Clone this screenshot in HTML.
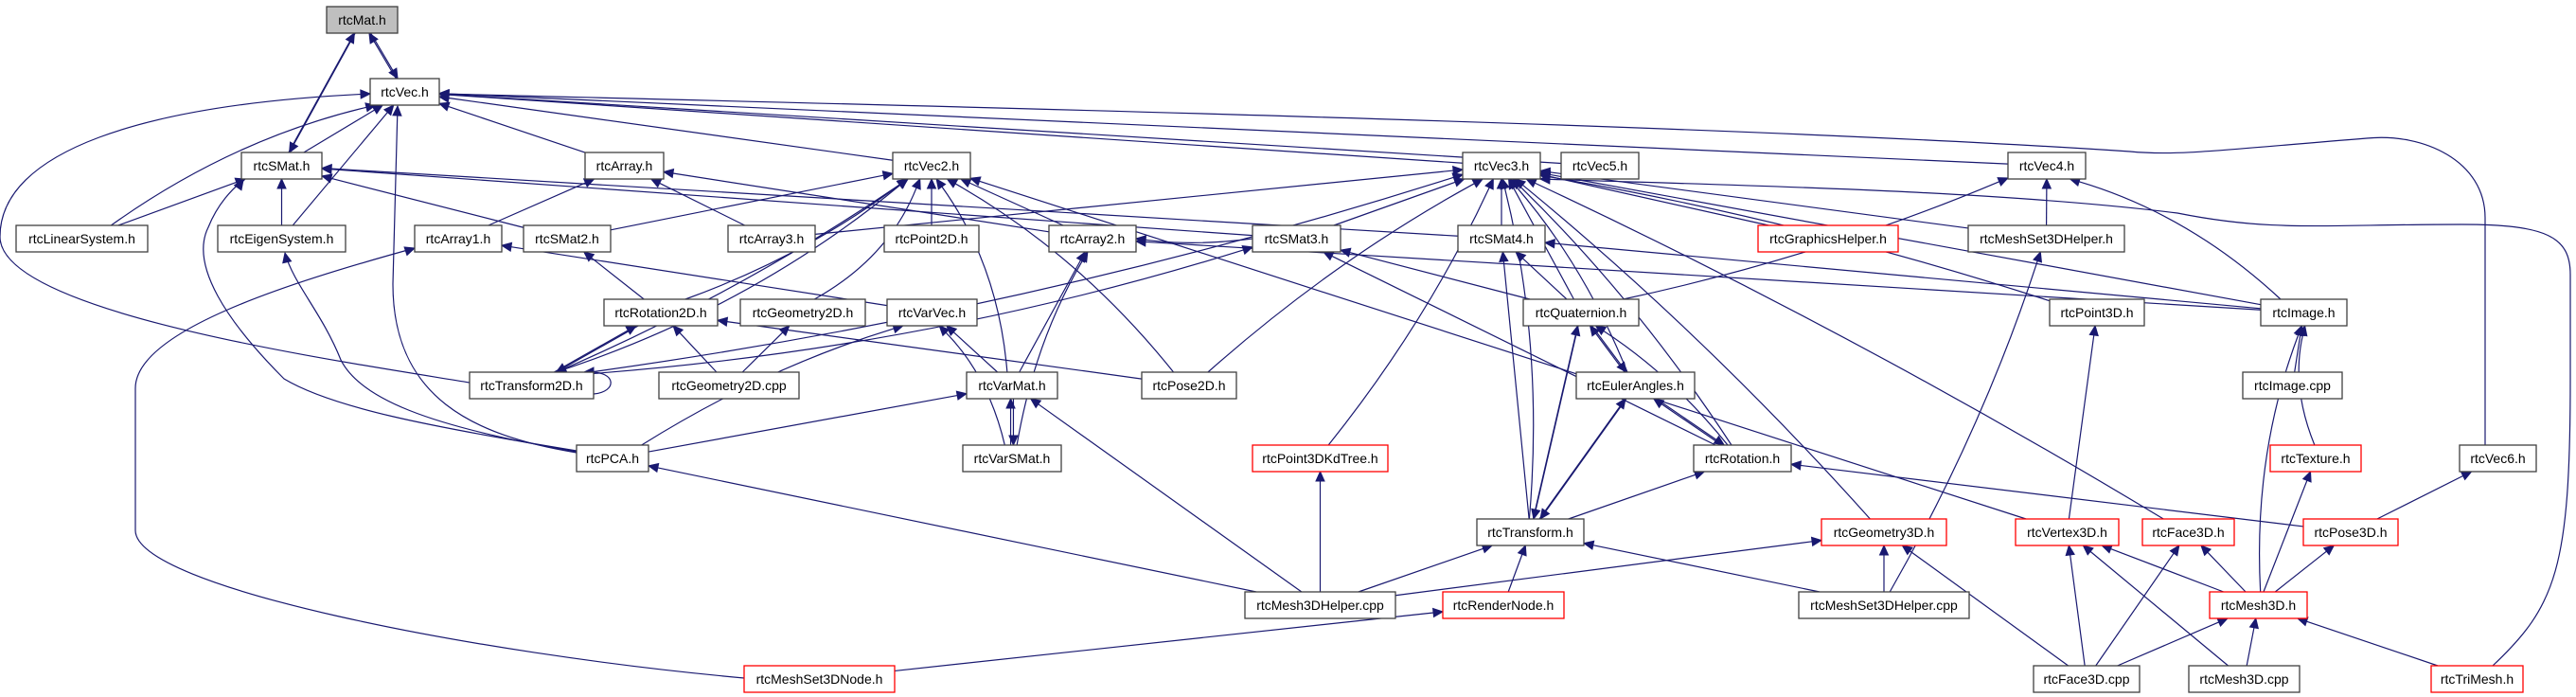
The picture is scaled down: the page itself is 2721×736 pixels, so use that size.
<!DOCTYPE html>
<html><head><meta charset="utf-8">
<style>
html,body{margin:0;padding:0;background:#fff;}
svg{display:block;}
text{font-family:"Liberation Sans",sans-serif;font-size:14px;fill:#000;}
</style></head>
<body>
<svg id="g" width="2721" height="736" xmlns="http://www.w3.org/2000/svg">
<g id="edges" fill="none" stroke="#191970" stroke-width="1.2"></g>
<g id="heads" fill="#191970" stroke="#191970"></g>
<g id="nodes" stroke-width="1.3">
<rect x="345" y="7" width="75" height="28" fill="#bfbfbf" stroke="#404040"/><text x="382.5" y="26" text-anchor="middle">rtcMat.h</text>
<rect x="391" y="83" width="73" height="28" fill="#fff" stroke="#404040"/><text x="427.5" y="102" text-anchor="middle">rtcVec.h</text>
<rect x="255" y="161" width="85" height="28" fill="#fff" stroke="#404040"/><text x="297.5" y="180" text-anchor="middle">rtcSMat.h</text>
<rect x="618" y="161" width="83" height="28" fill="#fff" stroke="#404040"/><text x="659.5" y="180" text-anchor="middle">rtcArray.h</text>
<rect x="943" y="161" width="82" height="28" fill="#fff" stroke="#404040"/><text x="984" y="180" text-anchor="middle">rtcVec2.h</text>
<rect x="1545" y="161" width="82" height="28" fill="#fff" stroke="#404040"/><text x="1586" y="180" text-anchor="middle">rtcVec3.h</text>
<rect x="1649" y="161" width="82" height="28" fill="#fff" stroke="#404040"/><text x="1690" y="180" text-anchor="middle">rtcVec5.h</text>
<rect x="2121" y="161" width="82" height="28" fill="#fff" stroke="#404040"/><text x="2162" y="180" text-anchor="middle">rtcVec4.h</text>
<rect x="17" y="238" width="139" height="28" fill="#fff" stroke="#404040"/><text x="86.5" y="257" text-anchor="middle">rtcLinearSystem.h</text>
<rect x="230" y="238" width="135" height="28" fill="#fff" stroke="#404040"/><text x="297.5" y="257" text-anchor="middle">rtcEigenSystem.h</text>
<rect x="438" y="238" width="92" height="28" fill="#fff" stroke="#404040"/><text x="484" y="257" text-anchor="middle">rtcArray1.h</text>
<rect x="553" y="238" width="92" height="28" fill="#fff" stroke="#404040"/><text x="599" y="257" text-anchor="middle">rtcSMat2.h</text>
<rect x="769" y="238" width="92" height="28" fill="#fff" stroke="#404040"/><text x="815" y="257" text-anchor="middle">rtcArray3.h</text>
<rect x="934" y="238" width="100" height="28" fill="#fff" stroke="#404040"/><text x="984" y="257" text-anchor="middle">rtcPoint2D.h</text>
<rect x="1108" y="238" width="92" height="28" fill="#fff" stroke="#404040"/><text x="1154" y="257" text-anchor="middle">rtcArray2.h</text>
<rect x="1323" y="238" width="93" height="28" fill="#fff" stroke="#404040"/><text x="1369.5" y="257" text-anchor="middle">rtcSMat3.h</text>
<rect x="1540" y="238" width="92" height="28" fill="#fff" stroke="#404040"/><text x="1586" y="257" text-anchor="middle">rtcSMat4.h</text>
<rect x="1857" y="238" width="148" height="28" fill="#fff" stroke="#ff0000"/><text x="1931" y="257" text-anchor="middle">rtcGraphicsHelper.h</text>
<rect x="2079" y="238" width="165" height="28" fill="#fff" stroke="#404040"/><text x="2161.5" y="257" text-anchor="middle">rtcMeshSet3DHelper.h</text>
<rect x="638" y="316" width="120" height="28" fill="#fff" stroke="#404040"/><text x="698" y="335" text-anchor="middle">rtcRotation2D.h</text>
<rect x="782" y="316" width="132" height="28" fill="#fff" stroke="#404040"/><text x="848" y="335" text-anchor="middle">rtcGeometry2D.h</text>
<rect x="937" y="316" width="95" height="28" fill="#fff" stroke="#404040"/><text x="984.5" y="335" text-anchor="middle">rtcVarVec.h</text>
<rect x="1609" y="316" width="122" height="28" fill="#fff" stroke="#404040"/><text x="1670" y="335" text-anchor="middle">rtcQuaternion.h</text>
<rect x="2165" y="316" width="100" height="28" fill="#fff" stroke="#404040"/><text x="2215" y="335" text-anchor="middle">rtcPoint3D.h</text>
<rect x="2388" y="316" width="91" height="28" fill="#fff" stroke="#404040"/><text x="2433.5" y="335" text-anchor="middle">rtcImage.h</text>
<rect x="496" y="393" width="131" height="28" fill="#fff" stroke="#404040"/><text x="561.5" y="412" text-anchor="middle">rtcTransform2D.h</text>
<rect x="696" y="393" width="148" height="28" fill="#fff" stroke="#404040"/><text x="770" y="412" text-anchor="middle">rtcGeometry2D.cpp</text>
<rect x="1021" y="393" width="96" height="28" fill="#fff" stroke="#404040"/><text x="1069" y="412" text-anchor="middle">rtcVarMat.h</text>
<rect x="1206" y="393" width="100" height="28" fill="#fff" stroke="#404040"/><text x="1256" y="412" text-anchor="middle">rtcPose2D.h</text>
<rect x="1665" y="393" width="125" height="28" fill="#fff" stroke="#404040"/><text x="1727.5" y="412" text-anchor="middle">rtcEulerAngles.h</text>
<rect x="2369" y="393" width="105" height="28" fill="#fff" stroke="#404040"/><text x="2421.5" y="412" text-anchor="middle">rtcImage.cpp</text>
<rect x="609" y="470" width="76" height="28" fill="#fff" stroke="#404040"/><text x="647" y="489" text-anchor="middle">rtcPCA.h</text>
<rect x="1017" y="470" width="104" height="28" fill="#fff" stroke="#404040"/><text x="1069" y="489" text-anchor="middle">rtcVarSMat.h</text>
<rect x="1323" y="470" width="143" height="28" fill="#fff" stroke="#ff0000"/><text x="1394.5" y="489" text-anchor="middle">rtcPoint3DKdTree.h</text>
<rect x="1789" y="470" width="103" height="28" fill="#fff" stroke="#404040"/><text x="1840.5" y="489" text-anchor="middle">rtcRotation.h</text>
<rect x="2398" y="470" width="96" height="28" fill="#fff" stroke="#ff0000"/><text x="2446" y="489" text-anchor="middle">rtcTexture.h</text>
<rect x="2598" y="470" width="81" height="28" fill="#fff" stroke="#404040"/><text x="2638.5" y="489" text-anchor="middle">rtcVec6.h</text>
<rect x="1560" y="548" width="113" height="28" fill="#fff" stroke="#404040"/><text x="1616.5" y="567" text-anchor="middle">rtcTransform.h</text>
<rect x="1924" y="548" width="132" height="28" fill="#fff" stroke="#ff0000"/><text x="1990" y="567" text-anchor="middle">rtcGeometry3D.h</text>
<rect x="2129" y="548" width="109" height="28" fill="#fff" stroke="#ff0000"/><text x="2183.5" y="567" text-anchor="middle">rtcVertex3D.h</text>
<rect x="2263" y="548" width="97" height="28" fill="#fff" stroke="#ff0000"/><text x="2311.5" y="567" text-anchor="middle">rtcFace3D.h</text>
<rect x="2433" y="548" width="100" height="28" fill="#fff" stroke="#ff0000"/><text x="2483" y="567" text-anchor="middle">rtcPose3D.h</text>
<rect x="1315" y="625" width="159" height="28" fill="#fff" stroke="#404040"/><text x="1394.5" y="644" text-anchor="middle">rtcMesh3DHelper.cpp</text>
<rect x="1524" y="625" width="128" height="28" fill="#fff" stroke="#ff0000"/><text x="1588" y="644" text-anchor="middle">rtcRenderNode.h</text>
<rect x="1900" y="625" width="180" height="28" fill="#fff" stroke="#404040"/><text x="1990" y="644" text-anchor="middle">rtcMeshSet3DHelper.cpp</text>
<rect x="2334" y="625" width="103" height="28" fill="#fff" stroke="#ff0000"/><text x="2385.5" y="644" text-anchor="middle">rtcMesh3D.h</text>
<rect x="786" y="703" width="159" height="28" fill="#fff" stroke="#ff0000"/><text x="865.5" y="722" text-anchor="middle">rtcMeshSet3DNode.h</text>
<rect x="2148" y="703" width="112" height="28" fill="#fff" stroke="#404040"/><text x="2204" y="722" text-anchor="middle">rtcFace3D.cpp</text>
<rect x="2312" y="703" width="117" height="28" fill="#fff" stroke="#404040"/><text x="2370.5" y="722" text-anchor="middle">rtcMesh3D.cpp</text>
<rect x="2568" y="703" width="97" height="28" fill="#fff" stroke="#ff0000"/><text x="2616.5" y="722" text-anchor="middle">rtcTriMesh.h</text>
</g>
</svg>
<script>
(function(){
var N={};
document.querySelectorAll('#nodes rect').forEach(function(r){
  var t=r.nextElementSibling.textContent;
  N[t]={x:+r.getAttribute('x'),y:+r.getAttribute('y'),w:+r.getAttribute('width'),h:+r.getAttribute('height')};
});
function c(n){return [n.x+n.w/2,n.y+n.h/2];}
function clip(n,px,py){
  var cx=n.x+n.w/2,cy=n.y+n.h/2,dx=px-cx,dy=py-cy;
  var sx=dx?(n.w/2)/Math.abs(dx):1e9, sy=dy?(n.h/2)/Math.abs(dy):1e9, s=Math.min(sx,sy);
  return [cx+dx*s,cy+dy*s];
}
var E=document.getElementById('edges'),H=document.getElementById('heads');
var NS='http://www.w3.org/2000/svg';
function head(qx,qy,fx,fy){
  var ex=qx-fx,ey=qy-fy,el=Math.hypot(ex,ey)||1;ex/=el;ey/=el;
  var al=10,aw=4.5,bx=qx-ex*al,by=qy-ey*al;
  var poly=document.createElementNS(NS,'polygon');
  poly.setAttribute('points',qx+','+qy+' '+(bx-ey*aw)+','+(by+ex*aw)+' '+(bx+ey*aw)+','+(by-ex*aw));
  H.appendChild(poly);
  return [bx,by];
}
function edge(a,b,off,bend){
  off=off||0;bend=bend||0;
  var A=N[a],B=N[b];
  var ca=c(A),cb=c(B);
  var dx=cb[0]-ca[0],dy=cb[1]-ca[1],L=Math.hypot(dx,dy)||1;
  var nx=-dy/L*off,ny=dx/L*off;
  ca=[ca[0]+nx,ca[1]+ny];cb=[cb[0]+nx,cb[1]+ny];
  var p=clip(A,cb[0],cb[1]),q=clip(B,ca[0],ca[1]);
  var mx=(p[0]+q[0])/2,my=(p[1]+q[1])/2;
  var ddx=q[0]-p[0],ddy=q[1]-p[1],LL=Math.hypot(ddx,ddy)||1;
  var cxp=mx-ddy/LL*bend,cyp=my+ddx/LL*bend;
  var b2=head(q[0],q[1],cxp,cyp);
  var path=document.createElementNS(NS,'path');
  path.setAttribute('d','M'+p[0]+','+p[1]+' Q'+cxp+','+cyp+' '+b2[0]+','+b2[1]);
  E.appendChild(path);
}
function custom(d,qx,qy,fx,fy){
  var b=head(qx,qy,fx,fy);
  var path=document.createElementNS(NS,'path');
  path.setAttribute('d',d+' L'+b[0]+','+b[1]);
  E.appendChild(path);
}
var list=[
['rtcVec.h','rtcMat.h',-4],['rtcMat.h','rtcVec.h',-4],
['rtcSMat.h','rtcMat.h',-4],['rtcMat.h','rtcSMat.h',-4],
['rtcSMat.h','rtcVec.h'],
['rtcLinearSystem.h','rtcVec.h',0,-30],['rtcLinearSystem.h','rtcSMat.h'],
['rtcEigenSystem.h','rtcSMat.h'],['rtcEigenSystem.h','rtcVec.h'],
['rtcPCA.h','rtcVarVec.h',0,-20],['rtcPCA.h','rtcVarMat.h'],
['rtcTransform2D.h','rtcVec2.h',0,40],['rtcTransform2D.h','rtcVec2.h',5,20],
['rtcTransform2D.h','rtcVec3.h',0,40],['rtcTransform2D.h','rtcSMat3.h',0,40],
['rtcTransform2D.h','rtcRotation2D.h',-3],['rtcRotation2D.h','rtcTransform2D.h',-3],
['rtcArray.h','rtcVec.h'],['rtcArray1.h','rtcArray.h'],['rtcArray3.h','rtcArray.h'],['rtcArray2.h','rtcArray.h'],
['rtcArray2.h','rtcVec2.h'],['rtcSMat3.h','rtcArray2.h',0,-8],
['rtcVec2.h','rtcVec.h'],['rtcPoint2D.h','rtcVec2.h'],['rtcArray3.h','rtcVec3.h'],
['rtcGeometry2D.h','rtcVec2.h',0,30],['rtcVarMat.h','rtcVec2.h',0,30],['rtcPose2D.h','rtcVec2.h',0,30],
['rtcPose2D.h','rtcVec3.h',0,-20],['rtcSMat2.h','rtcVec2.h'],['rtcSMat2.h','rtcSMat.h'],['rtcRotation2D.h','rtcSMat2.h'],
['rtcRotation2D.h','rtcVec2.h',0,20],
['rtcGeometry2D.cpp','rtcGeometry2D.h'],['rtcGeometry2D.cpp','rtcRotation2D.h'],['rtcPose2D.h','rtcRotation2D.h'],
['rtcVarVec.h','rtcArray1.h'],['rtcVarMat.h','rtcVarVec.h'],['rtcVarSMat.h','rtcVarVec.h',0,20],
['rtcVarSMat.h','rtcVarMat.h',-8],['rtcVarMat.h','rtcVarSMat.h',-8],['rtcVarMat.h','rtcArray2.h'],['rtcVarSMat.h','rtcArray2.h',0,-20],
['rtcMesh3DHelper.cpp','rtcVarMat.h'],['rtcMesh3DHelper.cpp','rtcPCA.h'],['rtcMesh3DHelper.cpp','rtcPoint3DKdTree.h'],
['rtcMesh3DHelper.cpp','rtcTransform.h'],['rtcMesh3DHelper.cpp','rtcGeometry3D.h'],['rtcPoint3DKdTree.h','rtcVec3.h',0,20],
['rtcVec3.h','rtcVec.h'],['rtcVec4.h','rtcVec.h'],['rtcVec5.h','rtcVec.h'],
['rtcSMat3.h','rtcSMat.h'],['rtcSMat4.h','rtcSMat.h'],['rtcSMat3.h','rtcVec3.h'],['rtcSMat4.h','rtcVec3.h'],
['rtcQuaternion.h','rtcSMat3.h'],['rtcQuaternion.h','rtcSMat4.h'],['rtcQuaternion.h','rtcVec3.h'],['rtcQuaternion.h','rtcVec4.h',0,20],
['rtcEulerAngles.h','rtcQuaternion.h',-4],['rtcQuaternion.h','rtcEulerAngles.h',-4],['rtcEulerAngles.h','rtcVec3.h',0,20],
['rtcRotation.h','rtcQuaternion.h',0,15],['rtcRotation.h','rtcEulerAngles.h',-4],['rtcEulerAngles.h','rtcRotation.h',-4],
['rtcRotation.h','rtcSMat3.h'],['rtcRotation.h','rtcVec3.h',0,20],
['rtcTransform.h','rtcQuaternion.h',-4],['rtcQuaternion.h','rtcTransform.h',-4],['rtcTransform.h','rtcEulerAngles.h',-4],['rtcEulerAngles.h','rtcTransform.h',-4],
['rtcTransform.h','rtcRotation.h'],['rtcTransform.h','rtcSMat4.h'],['rtcTransform.h','rtcVec3.h',0,30],
['rtcGeometry3D.h','rtcVec3.h',0,20],['rtcGraphicsHelper.h','rtcVec3.h'],
['rtcMeshSet3DHelper.h','rtcVec4.h'],['rtcMeshSet3DHelper.h','rtcVec3.h'],
['rtcMeshSet3DHelper.cpp','rtcMeshSet3DHelper.h',0,20],['rtcMeshSet3DHelper.cpp','rtcTransform.h'],['rtcMeshSet3DHelper.cpp','rtcGeometry3D.h'],
['rtcPoint3D.h','rtcVec3.h',0,20],['rtcImage.h','rtcVec3.h'],['rtcImage.h','rtcVec4.h',0,30],['rtcImage.h','rtcSMat4.h'],['rtcImage.h','rtcArray2.h'],
['rtcImage.cpp','rtcImage.h'],['rtcTexture.h','rtcImage.h',0,-20],
['rtcMesh3D.h','rtcImage.h',0,-30],['rtcMesh3D.h','rtcTexture.h'],['rtcMesh3D.h','rtcPose3D.h'],['rtcMesh3D.h','rtcFace3D.h'],['rtcMesh3D.h','rtcVertex3D.h'],
['rtcVertex3D.h','rtcPoint3D.h'],['rtcVertex3D.h','rtcVec2.h'],['rtcFace3D.h','rtcVec3.h',0,20],
['rtcPose3D.h','rtcVec6.h'],['rtcPose3D.h','rtcRotation.h'],
['rtcFace3D.cpp','rtcVertex3D.h'],['rtcFace3D.cpp','rtcFace3D.h'],['rtcFace3D.cpp','rtcMesh3D.h'],['rtcFace3D.cpp','rtcGeometry3D.h'],
['rtcMesh3D.cpp','rtcVertex3D.h'],['rtcMesh3D.cpp','rtcMesh3D.h'],
['rtcTriMesh.h','rtcMesh3D.h'],
['rtcRenderNode.h','rtcTransform.h'],['rtcMeshSet3DNode.h','rtcRenderNode.h']
];
list.forEach(function(e){ if(N[e[0]]&&N[e[1]]) edge(e[0],e[1],e[2],e[3]); });
// long custom curves
custom('M496,404 C350,380 0,330 0,250 C0,160 150,110 391,99',391,99,370,100);
custom('M786,716 C500,690 143,620 143,560 L143,410 C143,350 300,300 438,262',438,262,420,268);
custom('M609,478 C500,460 415,420 415,300 L420,112',420,112,419,130);
custom('M609,476 C450,450 350,430 300,400 C240,340 200,280 220,240 C230,215 245,200 257,190',257,190,250,200);
custom('M609,477 C450,450 380,420 360,380 C340,330 310,300 301,267',301,267,305,285);
custom('M2633,703 C2700,640 2715,600 2715,400 L2715,290 C2715,250 2690,237 2600,237 C2450,237 2400,245 2300,225 C2100,200 1800,195 1627,189',1627,189,1650,190);
custom('M2625,470 L2625,230 C2625,170 2560,140 2500,146 C2350,158 2300,165 2250,160 C1800,130 900,110 464,99',464,99,490,100);
// self loop
var p=document.createElementNS(NS,'path');
p.setAttribute('d','M627,416 C652,414 652,392 622,393');
E.appendChild(p);
var t=document.createElementNS(NS,'polygon');
t.setAttribute('points','617,393 627,388 627,398');
H.appendChild(t);
})();
</script>
</body></html>
